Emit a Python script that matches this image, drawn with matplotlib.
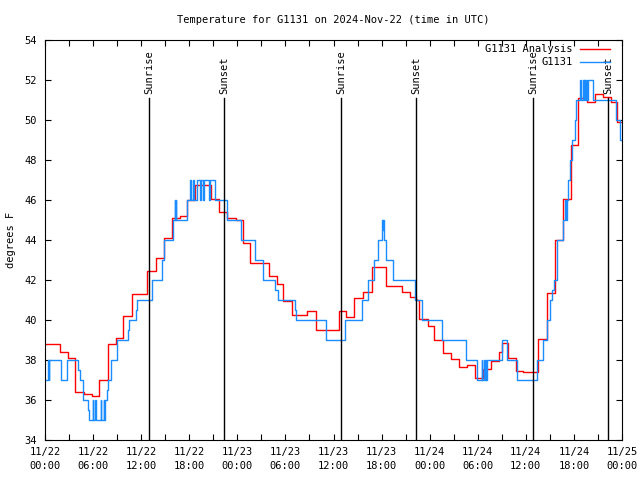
import matplotlib
matplotlib.use("Agg")
import matplotlib.pyplot as plt
from matplotlib.ticker import MultipleLocator

# hours since 2024-11-22 00:00 UTC where each step starts, and the value held
red_hours = [0.0, 1.9, 2.9, 3.8, 4.9, 5.9, 6.8, 7.9, 8.8, 9.7, 10.8, 12.7, 13.85,
             14.8, 15.8, 16.8, 17.7, 18.7, 20.7, 21.7, 22.75, 23.8, 24.75, 25.6,
             27.9, 28.9, 29.7, 30.8, 32.65, 33.8, 36.7, 37.6, 38.6, 39.7, 40.8,
             42.6, 44.6, 45.5, 46.3, 46.7, 47.8, 48.6, 49.7, 50.7, 51.7, 52.6,
             53.65, 54.6, 55.6, 56.6, 57.0, 57.8, 58.8, 59.7, 61.55, 62.6, 63.6,
             64.6, 65.6, 66.55, 67.6, 68.6, 69.6, 70.6, 71.4, 72.0]
red_temps = [38.8, 38.4, 38.1, 36.4, 36.3, 36.2, 37.0, 38.8, 39.1, 40.2, 41.3, 42.45, 43.1,
             44.1, 45.1, 45.2, 46.0, 46.75, 46.05, 45.4, 45.1, 45.0, 43.85, 42.85,
             42.2, 41.8, 40.95, 40.25, 40.45, 39.5, 40.45, 40.13, 41.1, 41.4, 42.67,
             41.7, 41.4, 41.15, 41.0, 40.03, 39.7, 39.0, 38.35, 38.05, 37.67, 37.75,
             37.08, 37.53, 37.97, 38.4, 38.83, 38.08, 37.45, 37.4, 39.03, 41.33, 44.0,
             46.03, 48.75, 51.08, 50.9, 51.28, 51.17, 50.9, 49.9, 49.9]

obs_hours = [0.0, 0.4, 0.47, 0.52, 1.95, 2.8, 4.15, 4.35, 4.7, 5.4, 5.5, 6.0, 6.05,
             6.3, 6.35, 7.0, 7.05, 7.3, 7.35, 7.5, 7.7, 7.9, 8.2, 8.95, 10.3, 10.5,
             11.35, 11.45, 13.4, 14.55, 14.8, 16.0, 16.2, 16.25, 16.35, 16.4, 17.7,
             18.1, 18.2, 18.5, 18.6, 19.0, 19.3, 19.5, 19.7, 19.8, 20.5, 20.6, 21.2,
             22.75, 24.5, 26.2, 27.2, 28.7, 29.1, 31.2, 31.3, 35.05, 37.4, 39.5,
             40.35, 41.0, 41.5, 42.0, 42.1, 42.15, 42.2, 42.3, 42.55, 43.4, 46.2,
             47.1, 49.6, 52.5, 53.9, 54.5, 54.55, 54.8, 54.85, 55.0, 55.05, 55.1,
             57.0, 57.6, 57.7, 58.9, 61.45, 62.1, 62.6, 63.0, 63.3, 63.55, 63.9,
             64.6, 64.9, 65.0, 65.1, 65.3, 65.45, 65.7, 66.1, 66.3, 66.8, 66.9,
             67.1, 67.2, 67.3, 67.4, 67.5, 67.6, 67.8, 68.4, 71.3, 71.7, 72.0]
obs_temps = [37.0, 38.0, 37.0, 38.0, 37.0, 38.0, 37.5, 37.0, 36.0, 35.5, 35.0, 36.0, 35.0,
             36.0, 35.0, 36.0, 35.0, 36.0, 35.0, 36.0, 36.5, 37.0, 38.0, 39.0, 39.5, 40.0,
             40.5, 41.0, 42.0, 43.0, 44.0, 45.0, 46.0, 45.0, 46.0, 45.0, 46.0,
             47.0, 46.0, 47.0, 46.0, 47.0, 46.0, 47.0, 46.0, 47.0, 46.0, 47.0, 46.0,
             45.0, 44.0, 43.0, 42.0, 41.5, 41.0, 40.5, 40.0, 39.0, 40.0, 41.0,
             42.0, 43.0, 44.0, 44.5, 45.0, 44.5, 45.0, 44.0, 43.0, 42.0, 41.0,
             40.0, 39.0, 38.0, 37.0, 38.0, 37.0, 38.0, 37.0, 38.0, 37.0, 38.0,
             39.0, 38.5, 38.0, 37.0, 38.0, 39.0, 40.0, 41.0, 41.5, 42.0, 44.0,
             45.0, 46.0, 45.0, 46.0, 47.0, 48.0, 49.0, 50.0, 51.0, 52.0, 51.0,
             52.0, 51.0, 52.0, 51.0, 52.0, 51.0, 52.0, 51.0, 50.0, 49.0, 49.0]

sun_hours = [12.98, 22.34, 36.94, 46.29, 60.93, 70.29]
sun_labels = ["Sunrise", "Sunset", "Sunrise", "Sunset", "Sunrise", "Sunset"]

tick_hours = list(range(0, 73, 6))
tick_labels = ["11/22\n00:00", "11/22\n06:00", "11/22\n12:00", "11/22\n18:00",
               "11/23\n00:00", "11/23\n06:00", "11/23\n12:00", "11/23\n18:00",
               "11/24\n00:00", "11/24\n06:00", "11/24\n12:00", "11/24\n18:00",
               "11/25\n00:00"]

plt.rcParams['font.family'] = ['DejaVu Sans Mono']
plt.rcParams['font.size'] = 7.5

fig = plt.figure(figsize=(6.4, 4.8), dpi=100)
ax = fig.add_axes([45 / 640, 40 / 480, 577 / 640, 400 / 480])

ax.step(red_hours, red_temps, where='post', color='#ff0000', lw=1, label='G1131 Analysis')
ax.step(obs_hours, obs_temps, where='post', color='#1a8cff', lw=1, label='G1131')

for h, lab in zip(sun_hours, sun_labels):
    ax.plot([h, h], [34, 51.1], color='black', lw=1)
    ax.text(h, 51.3, lab, rotation=90, ha='center', va='bottom', fontsize=7.5)

ax.set_xlim(0, 72)
ax.set_ylim(34, 54)
ax.set_xticks(tick_hours)
ax.set_xticklabels(tick_labels, linespacing=1.5)
ax.xaxis.set_minor_locator(MultipleLocator(3))
ax.yaxis.set_major_locator(MultipleLocator(2))
ax.tick_params(which='both', direction='in', top=True, right=True, length=4, width=0.8)
ax.tick_params(axis='x', pad=5)
ax.tick_params(axis='y', pad=6)
for s in ax.spines.values():
    s.set_linewidth(0.8)

ax.set_ylabel('degrees F', labelpad=6)
ax.set_title('Temperature for G1131 on 2024-Nov-22 (time in UTC)', fontsize=7.5, pad=12)
ax.legend(loc='upper right', bbox_to_anchor=(0.986, 1.0), frameon=False, markerfirst=False,
          handlelength=2.9, borderaxespad=0, labelspacing=0.3, handletextpad=0.7, fontsize=7.5)

fig.savefig('out.png', dpi=100)
